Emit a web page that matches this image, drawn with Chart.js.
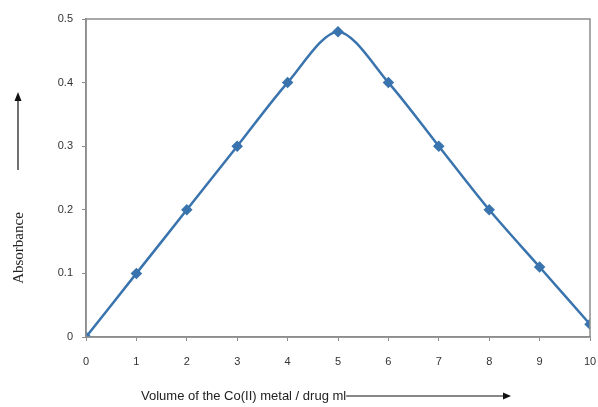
<!DOCTYPE html>
<html><head><meta charset="utf-8">
<script src="https://cdn.jsdelivr.net/npm/chart.js@4/dist/chart.umd.min.js"></script>
<style>html,body{margin:0;padding:0;background:#fff}#wrap{width:598px;height:407px}</style>
</head><body><div id="wrap"><canvas id="c" width="598" height="407"></canvas></div>
<script>
const volumes = [0,1,2,3,4,5,6,7,8,9,10];
const absorbance = [0,0.1,0.2,0.3,0.4,0.48,0.4,0.3,0.2,0.11,0.02];
const yTicks = [0,0.1,0.2,0.3,0.4,0.5];
const xTitle = "Volume of the Co(II) metal / drug ml";
const yTitle = "Absorbance";

const points = volumes.map((v,i)=>({x:v,y:absorbance[i]}));

const decor = {
  id:'decor',
  afterDraw(chart){
    const {ctx, chartArea:a} = chart;
    ctx.save();
    ctx.strokeStyle='#8c8c8c'; ctx.lineWidth=1.5;
    ctx.strokeRect(a.left, a.top, a.right-a.left, a.bottom-a.top);
    // x title
    ctx.fillStyle='#222';
    ctx.font='13px "Liberation Sans", Arial, sans-serif';
    ctx.textBaseline='middle'; ctx.textAlign='left';
    const tx=141, ty=396;
    ctx.fillText(xTitle, tx, ty);
    const w=ctx.measureText(xTitle).width;
    ctx.strokeStyle='#111'; ctx.lineWidth=1.2;
    ctx.beginPath(); ctx.moveTo(tx+w, ty); ctx.lineTo(505, ty); ctx.stroke();
    ctx.beginPath(); ctx.moveTo(511,ty); ctx.lineTo(503,ty-3.5); ctx.lineTo(503,ty+3.5); ctx.closePath(); ctx.fillStyle='#111'; ctx.fill();
    // y title
    ctx.save();
    ctx.translate(19, 248);
    ctx.rotate(-Math.PI/2);
    ctx.textAlign='center';
    ctx.fillStyle='#222';
    ctx.font='15px "Liberation Serif", "Times New Roman", serif';
    ctx.fillText(yTitle, 0, 0);
    ctx.restore();
    // y arrow
    ctx.beginPath(); ctx.moveTo(18, 170); ctx.lineTo(18, 100); ctx.stroke();
    ctx.beginPath(); ctx.moveTo(18,92); ctx.lineTo(14.5,101); ctx.lineTo(21.5,101); ctx.closePath(); ctx.fill();
    ctx.restore();
  }
};

new Chart(document.getElementById('c'), {
  type:'scatter',
  data:{datasets:[{
    data:points,
    showLine:true,
    borderColor:'#3a74ae',
    backgroundColor:'#3a74ae',
    borderWidth:2.5,
    tension:0.3,
    pointStyle:'rectRot',
    pointRadius:4,
    pointHoverRadius:4
  }]},
  options:{
    responsive:false,
    animation:false,
    events:[],
    layout:{padding:{left:0,right:8,top:19,bottom:0}},
    plugins:{legend:{display:false},tooltip:{enabled:false}},
    scales:{
      x:{
        type:'linear', min:0, max:10,
        afterFit(s){s.height=70; s.paddingLeft=0; s.paddingRight=0;},
        afterBuildTicks(s){s.ticks=volumes.map(v=>({value:v}));},
        grid:{drawOnChartArea:false, tickLength:4, color:'#8c8c8c'},
        border:{color:'#8c8c8c', width:1.5},
        ticks:{color:'#333', font:{family:'"Liberation Sans", Arial', size:11}, padding:14, maxRotation:0}
      },
      y:{
        min:0, max:0.5,
        afterFit(s){s.width=86; s.paddingTop=0; s.paddingBottom=0;},
        afterBuildTicks(s){s.ticks=yTicks.map(v=>({value:v}));},
        grid:{drawOnChartArea:false, tickLength:4, color:'#8c8c8c'},
        border:{color:'#8c8c8c', width:1.5},
        ticks:{color:'#333', font:{family:'"Liberation Sans", Arial', size:11}, padding:9,
          callback:v=>String(v)}
      }
    }
  },
  plugins:[decor]
});
</script></body></html>
